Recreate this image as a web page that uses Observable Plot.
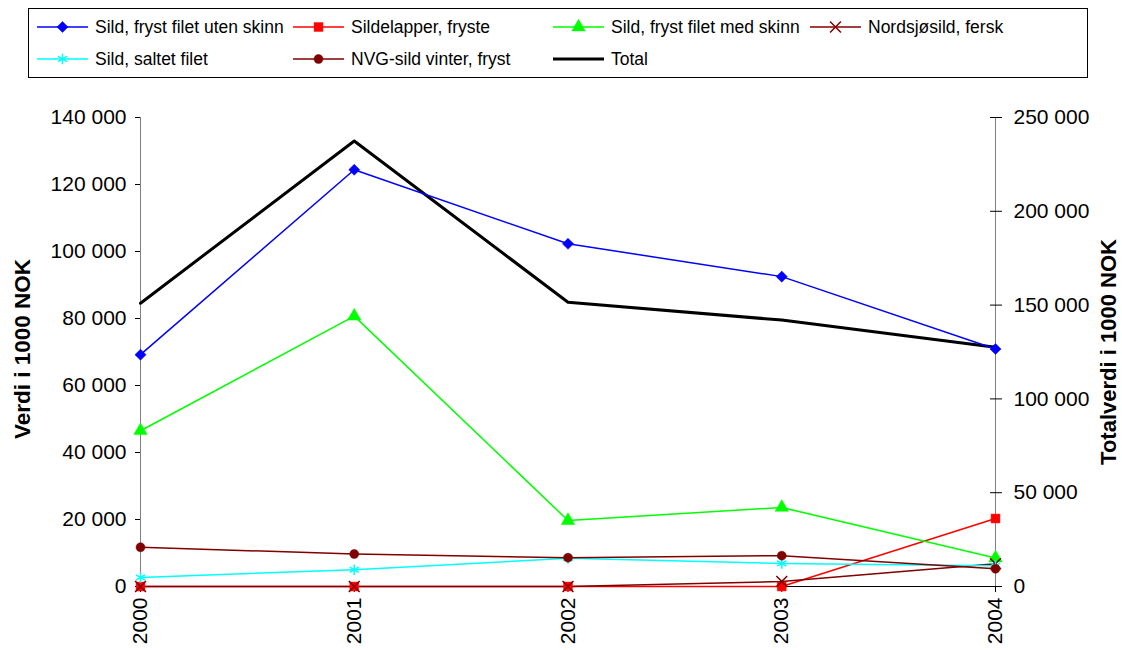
<!DOCTYPE html>
<html>
<head>
<meta charset="utf-8">
<script src="https://cdn.jsdelivr.net/npm/d3@7"></script>
<script src="https://cdn.jsdelivr.net/npm/@observablehq/plot@0.6"></script>
<style>
  html, body { margin: 0; padding: 0; background: #fff; }
  body { width: 1122px; height: 650px; overflow: hidden; font-family: "Liberation Sans", Arial, sans-serif; }
  #legend { position: relative; width: 1122px; height: 85px; }
  #legend .box { position: absolute; left: 28px; top: 8px; width: 1060px; height: 70px; box-sizing: border-box; border: 1px solid #000; }
  #legend .item { position: absolute; display: flex; align-items: center; height: 22px; font-size: 17.5px; color: #000; white-space: nowrap; }
  #legend svg { display: block; margin-right: 6px; }
  #chart svg { display: block; }
</style>
</head>
<body>
<div id="legend"><div class="box"></div></div>
<div id="chart"></div>
<script>
// ---- data (values in 1000 NOK) ----
const years = [2000, 2001, 2002, 2003, 2004];
const seriesNames = [
  "Sild, fryst filet uten skinn",
  "Sildelapper, fryste",
  "Sild, fryst filet med skinn",
  "Nordsjøsild, fersk",
  "Sild, saltet filet",
  "NVG-sild vinter, fryst"
];
const utenSkinn   = [69200, 124400, 102300, 92500, 70900];
const sildelapper = [0, 0, 0, 0, 20300];
const medSkinn    = [46500, 80700, 19700, 23600, 8500];
const nordsjosild = [0, 0, 0, 1500, 6800];
const saltetFilet = [2700, 5000, 8400, 6900, 6200];
const nvgSild     = [11700, 9700, 8600, 9200, 5300];
const totalName = "Total";
const totalValues = [151000, 237500, 151500, 142000, 127500];

const leftTicks = [0, 20000, 40000, 60000, 80000, 100000, 120000, 140000];
const rightTicks = [0, 50000, 100000, 150000, 200000, 250000];
const leftLabel = "Verdi i 1000 NOK";
const rightLabel = "Totalverdi i 1000 NOK";

// ---- styles ----
const colors  = ["#0000FF", "#FF0000", "#00FF00", "#800000", "#00FFFF", "#800000"];
const symbols = ["diamond2", "square", "triangle", "times", "asterisk", "circle"];
const leftMax = 140000, rightMax = 250000;
const k = leftMax / rightMax;

const seriesValues = [utenSkinn, sildelapper, medSkinn, nordsjosild, saltetFilet, nvgSild];
const rows = [];
seriesNames.forEach((name, i) => years.forEach((y, j) => rows.push({series: name, idx: i, year: y, value: seriesValues[i][j]})));
const totalRows = years.map((y, j) => ({year: y, value: totalValues[j] * k}));

const fmt = d => d3.format(",")(Math.round(d)).replace(/,/g, " ");
const font = "'Liberation Sans', Arial, sans-serif";

const marks = [
  Plot.ruleX([2000, 2004], {y1: 0, y2: leftMax, stroke: "#808080", strokeWidth: 1}),
  Plot.ruleY([0], {stroke: "#000", strokeWidth: 1}),
  Plot.axisY({anchor: "left", ticks: leftTicks, tickSize: 5, tickPadding: 9, tickFormat: fmt, fontSize: 21, label: null}),
  Plot.axisY({anchor: "right", ticks: rightTicks.map(v => v * k), tickSize: 12, dx: -6, fill: "none", label: null}),
  Plot.axisY({anchor: "right", ticks: rightTicks.map(v => v * k), tickSize: 0, tickPadding: 18, tickFormat: v => fmt(v / k), fontSize: 21, label: null}),
  Plot.axisX({ticks: years, tickSize: 6, tickPadding: 5, tickRotate: -90, tickFormat: d => String(d), fontSize: 21, label: null}),
  Plot.text([leftLabel], {frameAnchor: "left", dx: -118, dy: -3, rotate: -90, textAnchor: "middle", fontWeight: "bold", fontSize: 22.5, fill: "#000"}),
  Plot.text([rightLabel], {frameAnchor: "right", dx: 113, rotate: -90, textAnchor: "middle", fontWeight: "bold", fontSize: 22, fill: "#000"}),
  Plot.line(totalRows, {x: "year", y: "value", stroke: "#000", strokeWidth: 3})
];
seriesNames.forEach((name, i) => {
  const data = rows.filter(r => r.idx === i);
  marks.push(Plot.line(data, {x: "year", y: "value", stroke: colors[i], strokeWidth: 1.5}));
});
seriesNames.forEach((name, i) => {
  const data = rows.filter(r => r.idx === i);
  const stroked = symbols[i] === "times" || symbols[i] === "asterisk";
  marks.push(Plot.dot(data, {
    x: "year", y: "value", symbol: () => symbols[i],
    r: i === 5 ? 4.5 : 5,
    fill: stroked ? "none" : colors[i],
    stroke: colors[i], strokeWidth: stroked ? 1.5 : 0.5
  }));
});

const chart = Plot.plot({
  width: 1122,
  height: 565,
  marginTop: 32,
  marginBottom: 64,
  marginLeft: 140,
  marginRight: 127,
  style: {fontFamily: font, background: "#fff", color: "#000", overflow: "visible"},
  x: {type: "linear", domain: [2000, 2004]},
  y: {domain: [0, leftMax]},
  symbol: {type: "identity"},
  marks
});
document.getElementById("chart").appendChild(chart);

// ---- legend ----
const legendItems = [
  {name: seriesNames[0], color: colors[0], symbol: symbols[0], width: 1.5},
  {name: seriesNames[1], color: colors[1], symbol: symbols[1], width: 1.5},
  {name: seriesNames[2], color: colors[2], symbol: symbols[2], width: 1.5},
  {name: seriesNames[3], color: colors[3], symbol: symbols[3], width: 1.5},
  {name: seriesNames[4], color: colors[4], symbol: symbols[4], width: 1.5},
  {name: seriesNames[5], color: colors[5], symbol: symbols[5], width: 1.5},
  {name: totalName, color: "#000", symbol: null, width: 3}
];
const colX = [37, 293, 553, 810];
const rowY = [27, 59];
const symMap = {diamond2: d3.symbolDiamond2, square: d3.symbolSquare, triangle: d3.symbolTriangle, times: d3.symbolTimes, asterisk: d3.symbolAsterisk, circle: d3.symbolCircle};
const legend = d3.select("#legend");
legendItems.forEach((it, i) => {
  const col = i < 4 ? i : i - 4;
  const row = i < 4 ? 0 : 1;
  const div = legend.append("div").attr("class", "item")
    .style("left", colX[col] + "px").style("top", (rowY[row] - 11) + "px");
  const svg = div.append("svg").attr("width", 52).attr("height", 22);
  svg.append("line").attr("x1", 0).attr("x2", 51).attr("y1", 11).attr("y2", 11)
    .attr("stroke", it.color).attr("stroke-width", it.width);
  if (it.symbol) {
    const stroked = it.symbol === "times" || it.symbol === "asterisk";
    const size = it.symbol === "circle" ? Math.PI * 4.5 * 4.5 : Math.PI * 25;
    svg.append("path").attr("transform", "translate(25.5,11)")
      .attr("d", d3.symbol(symMap[it.symbol], size)())
      .attr("fill", stroked ? "none" : it.color)
      .attr("stroke", it.color).attr("stroke-width", stroked ? 1.5 : 0.5);
  }
  div.append("span").text(it.name);
});
</script>
</body>
</html>
